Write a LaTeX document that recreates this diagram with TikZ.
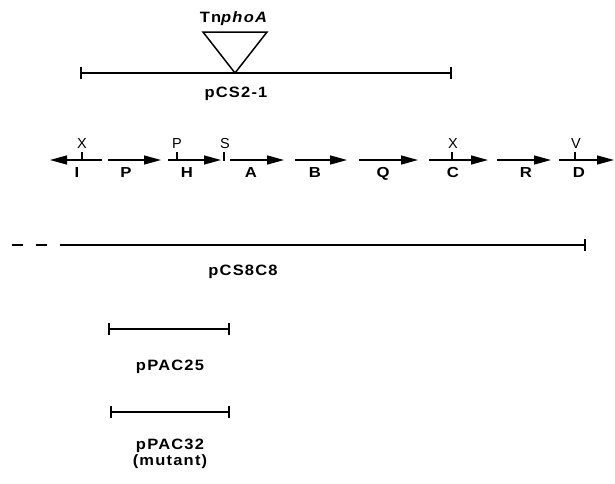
\documentclass[tikz,border=0pt]{standalone}
\usepackage{fontspec}
\setmainfont{Liberation Sans}
\newfontfamily\labelfont[FakeStretch=1.1,LetterSpace=8]{Liberation Sans}
\newfontfamily\genefont[FakeStretch=1.15]{Liberation Sans}
\usetikzlibrary{arrows.meta}
\tikzset{
  dna/.style={line width=1.1pt},
  gene/.style={line width=1.3pt, -{Triangle[length=17pt,width=9pt]}},
  site/.style={line width=1.1pt},
  genelabel/.style={anchor=base, inner sep=0pt, font=\fontsize{14.5}{15}\genefont\bfseries},
  sitelabel/.style={anchor=base, inner sep=0pt, font=\fontsize{14.5}{15}\selectfont},
  plasmid/.style={anchor=base, inner sep=0pt, font=\fontsize{15}{16}\labelfont\bfseries},
}
\begin{document}
\begin{tikzpicture}[x=1pt,y=-1pt]
\useasboundingbox (0,0) rectangle (615,483);

% pCS2-1 with the TnphoA insertion
\coordinate (s1a) at (81,73);
\coordinate (s1b) at (451,73);
\draw[dna] (s1a) -- (s1b);
\draw[dna] ([yshift=-6pt]s1a) -- ([yshift=6pt]s1a);
\draw[dna] ([yshift=-6pt]s1b) -- ([yshift=6pt]s1b);
\coordinate (tnL) at (203,32);
\coordinate (tnR) at (267,32);
\coordinate (tnT) at (235,73);
\draw[line width=1.5pt, line join=miter] (tnL) -- (tnR) -- (tnT) -- cycle;
\node[plasmid] (tnlabel) at (234,22) {Tn\textit{phoA}};
\node[plasmid] (pcs21) at (236,97) {pCS2-1};

% gene map
\coordinate (Ia) at (102,160); \coordinate (Ib) at (50,160);
\coordinate (Pa) at (108,160); \coordinate (Pb) at (161,160);
\coordinate (Ha) at (168,160); \coordinate (Hb) at (221,160);
\coordinate (Aa) at (230,160); \coordinate (Ab) at (284,160);
\coordinate (Ba) at (295,160); \coordinate (Bb) at (347,160);
\coordinate (Qa) at (359,160); \coordinate (Qb) at (418,160);
\coordinate (Ca) at (429,160); \coordinate (Cb) at (488,160);
\coordinate (Ra) at (497,160); \coordinate (Rb) at (551,160);
\coordinate (Da) at (559,160); \coordinate (Db) at (614,160);
\foreach \g in {I,P,H,A,B,Q,C,R,D}
  \draw[gene] (\g a) -- (\g b);

\node[genelabel] (lI) at (77,177) {I};
\node[genelabel] (lP) at (126,177) {P};
\node[genelabel] (lH) at (187,177) {H};
\node[genelabel] (lA) at (251,177) {A};
\node[genelabel] (lB) at (315,177) {B};
\node[genelabel] (lQ) at (383,177) {Q};
\node[genelabel] (lC) at (453,177) {C};
\node[genelabel] (lR) at (526,177) {R};
\node[genelabel] (lD) at (579,177) {D};

% restriction sites
\coordinate (x1) at (82,160);
\coordinate (p1) at (177,160);
\coordinate (s1) at (224,161);
\coordinate (x2) at (452,160);
\coordinate (v1) at (575,160);
\foreach \s in {x1,p1,x2,v1}
  \draw[site] (\s) -- ++(0,-8);
\draw[site] (s1) -- ++(0,-9);
\node[sitelabel] (tx1) at (82,148) {X};
\node[sitelabel] (tp1) at (177,148) {P};
\node[sitelabel] (ts1) at (225,148) {S};
\node[sitelabel] (tx2) at (453,148) {X};
\node[sitelabel] (tv1) at (576,148) {V};

% pCS8C8
\coordinate (c8a) at (60,245);
\coordinate (c8b) at (585,245);
\coordinate (d1a) at (12,245); \coordinate (d1b) at (23,245);
\coordinate (d2a) at (36,245); \coordinate (d2b) at (47,245);
\draw[dna] (d1a) -- (d1b);
\draw[dna] (d2a) -- (d2b);
\draw[dna] (c8a) -- (c8b);
\draw[dna] ([yshift=-6pt]c8b) -- ([yshift=6pt]c8b);
\node[plasmid] (pcs8c8) at (243,275) {pCS8C8};

% pPAC25
\coordinate (p25a) at (109,329);
\coordinate (p25b) at (229,329);
\draw[dna] (p25a) -- (p25b);
\draw[dna] ([yshift=-6pt]p25a) -- ([yshift=6pt]p25a);
\draw[dna] ([yshift=-6pt]p25b) -- ([yshift=6pt]p25b);
\node[plasmid] (ppac25) at (170,370) {pPAC25};

% pPAC32
\coordinate (p32a) at (111,412);
\coordinate (p32b) at (229,412);
\draw[dna] (p32a) -- (p32b);
\draw[dna] ([yshift=-6pt]p32a) -- ([yshift=6pt]p32a);
\draw[dna] ([yshift=-6pt]p32b) -- ([yshift=6pt]p32b);
\node[plasmid] (ppac32) at (170,449) {pPAC32};
\node[plasmid] (mutant) at (170,465) {(mutant)};
\end{tikzpicture}
\end{document}
